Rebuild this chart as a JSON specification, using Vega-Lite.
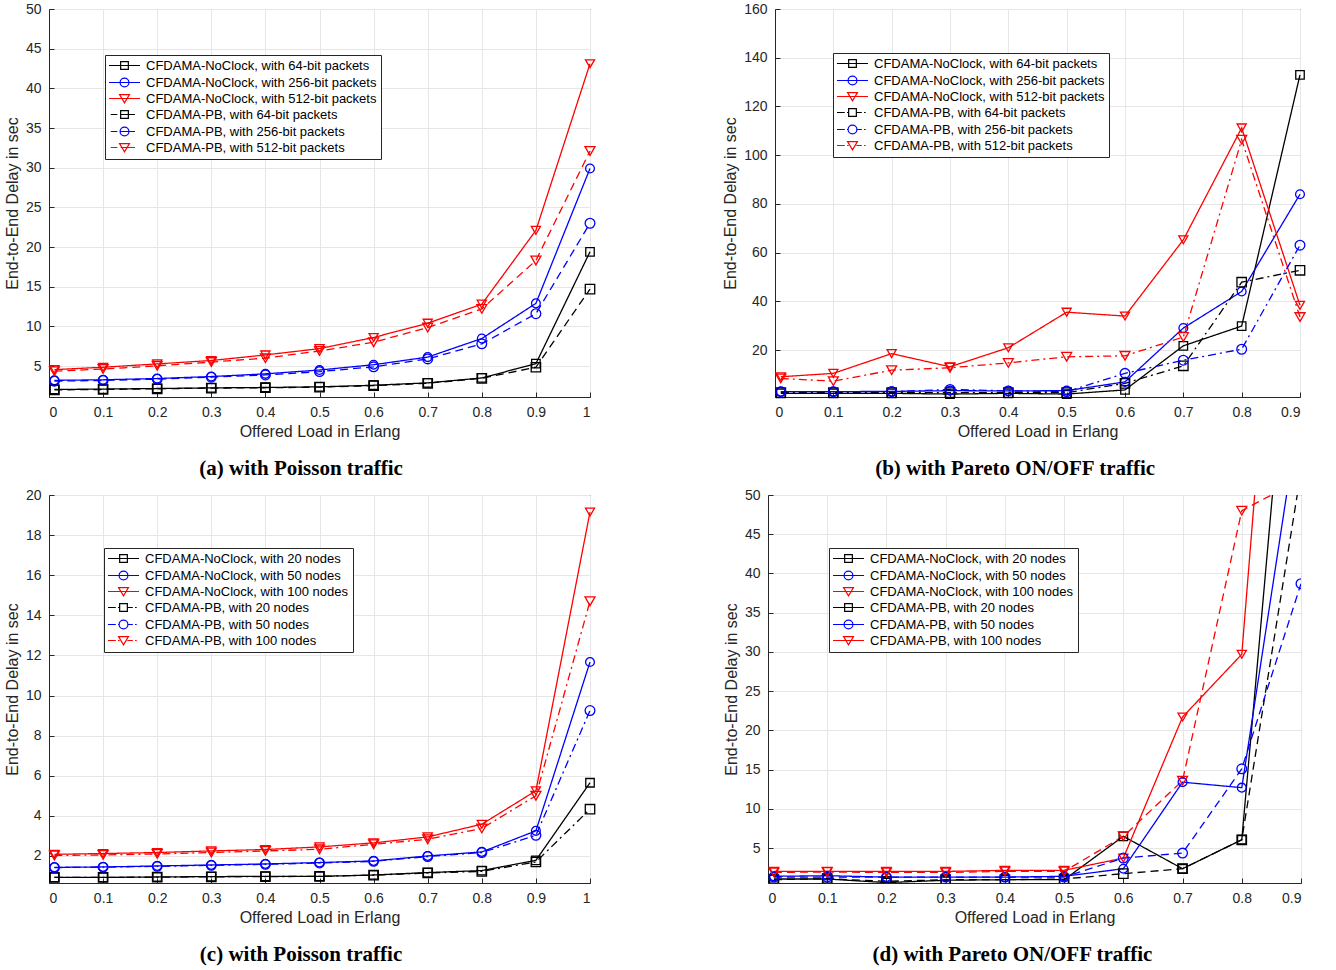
{
  "$schema": "https://vega.github.io/schema/vega-lite/v6.json",
  "background": "white",
  "padding": {"left": 3, "top": 1, "right": 0, "bottom": 0},
  "config": {
    "font": "Liberation Sans",
    "view": {"stroke": "#262626", "strokeWidth": 1},
    "axis": {
      "labelFont": "Liberation Sans", "labelFontSize": 14, "labelColor": "#262626",
      "titleFont": "Liberation Sans", "titleFontSize": 16, "titleFontWeight": "normal", "titleColor": "#262626",
      "gridColor": "#e6e6e6", "gridWidth": 1, "domainColor": "#262626", "tickColor": "#262626",
      "tickSize": -5, "labelPadding": 13
    },
    "axisX": {"titlePadding": 4},
    "axisY": {"titlePadding": 5},
    "title": {"font": "Liberation Serif", "fontSize": 21, "fontWeight": "bold", "color": "black", "offset": 19, "orient": "bottom", "anchor": "middle", "frame": "bounds"},
    "legend": {
      "orient": "none", "title": null, "strokeColor": "#262626", "fillColor": "white", "padding": 4,
      "labelFont": "Liberation Sans", "labelFontSize": 13, "labelColor": "black", "labelLimit": 400,
      "symbolSize": 121, "symbolStrokeWidth": 1.2, "labelOffset": 15, "symbolOffset": 9, "rowPadding": 2
    }
  },
  "datasets": {
    "pk": [
      {"s":"N1","name":"CFDAMA-NoClock, with 64-bit packets"},{"s":"N2","name":"CFDAMA-NoClock, with 256-bit packets"},{"s":"N3","name":"CFDAMA-NoClock, with 512-bit packets"},
      {"s":"P1","name":"CFDAMA-PB, with 64-bit packets"},{"s":"P2","name":"CFDAMA-PB, with 256-bit packets"},{"s":"P3","name":"CFDAMA-PB, with 512-bit packets"}
    ],
    "nd": [
      {"s":"N1","name":"CFDAMA-NoClock, with 20 nodes"},{"s":"N2","name":"CFDAMA-NoClock, with 50 nodes"},{"s":"N3","name":"CFDAMA-NoClock, with 100 nodes"},
      {"s":"P1","name":"CFDAMA-PB, with 20 nodes"},{"s":"P2","name":"CFDAMA-PB, with 50 nodes"},{"s":"P3","name":"CFDAMA-PB, with 100 nodes"}
    ],
    "a": [
      {"x":0.01,"y":2.05,"s":"N1"},{"x":0.1,"y":2.1,"s":"N1"},{"x":0.2,"y":2.17,"s":"N1"},{"x":0.3,"y":2.25,"s":"N1"},{"x":0.4,"y":2.3,"s":"N1"},{"x":0.5,"y":2.38,"s":"N1"},{"x":0.6,"y":2.58,"s":"N1"},{"x":0.7,"y":2.88,"s":"N1"},{"x":0.8,"y":3.5,"s":"N1"},{"x":0.9,"y":5.3,"s":"N1"},{"x":1.0,"y":19.4,"s":"N1"},
      {"x":0.01,"y":3.2,"s":"N2"},{"x":0.1,"y":3.27,"s":"N2"},{"x":0.2,"y":3.43,"s":"N2"},{"x":0.3,"y":3.68,"s":"N2"},{"x":0.4,"y":4.02,"s":"N2"},{"x":0.5,"y":4.5,"s":"N2"},{"x":0.6,"y":5.17,"s":"N2"},{"x":0.7,"y":6.13,"s":"N2"},{"x":0.8,"y":8.47,"s":"N2"},{"x":0.9,"y":12.9,"s":"N2"},{"x":1.0,"y":29.9,"s":"N2"},
      {"x":0.01,"y":4.55,"s":"N3"},{"x":0.1,"y":4.85,"s":"N3"},{"x":0.2,"y":5.27,"s":"N3"},{"x":0.3,"y":5.7,"s":"N3"},{"x":0.4,"y":6.4,"s":"N3"},{"x":0.5,"y":7.2,"s":"N3"},{"x":0.6,"y":8.6,"s":"N3"},{"x":0.7,"y":10.4,"s":"N3"},{"x":0.8,"y":12.8,"s":"N3"},{"x":0.9,"y":22.1,"s":"N3"},{"x":1.0,"y":43.1,"s":"N3"},
      {"x":0.01,"y":2.0,"s":"P1"},{"x":0.1,"y":2.05,"s":"P1"},{"x":0.2,"y":2.13,"s":"P1"},{"x":0.3,"y":2.22,"s":"P1"},{"x":0.4,"y":2.27,"s":"P1"},{"x":0.5,"y":2.34,"s":"P1"},{"x":0.6,"y":2.53,"s":"P1"},{"x":0.7,"y":2.83,"s":"P1"},{"x":0.8,"y":3.45,"s":"P1"},{"x":0.9,"y":4.85,"s":"P1"},{"x":1.0,"y":14.7,"s":"P1"},
      {"x":0.01,"y":3.1,"s":"P2"},{"x":0.1,"y":3.18,"s":"P2"},{"x":0.2,"y":3.35,"s":"P2"},{"x":0.3,"y":3.6,"s":"P2"},{"x":0.4,"y":3.88,"s":"P2"},{"x":0.5,"y":4.3,"s":"P2"},{"x":0.6,"y":4.9,"s":"P2"},{"x":0.7,"y":5.9,"s":"P2"},{"x":0.8,"y":7.8,"s":"P2"},{"x":0.9,"y":11.6,"s":"P2"},{"x":1.0,"y":23.0,"s":"P2"},
      {"x":0.01,"y":4.35,"s":"P3"},{"x":0.1,"y":4.63,"s":"P3"},{"x":0.2,"y":5.03,"s":"P3"},{"x":0.3,"y":5.5,"s":"P3"},{"x":0.4,"y":6.0,"s":"P3"},{"x":0.5,"y":6.9,"s":"P3"},{"x":0.6,"y":8.0,"s":"P3"},{"x":0.7,"y":9.85,"s":"P3"},{"x":0.8,"y":12.2,"s":"P3"},{"x":0.9,"y":18.3,"s":"P3"},{"x":1.0,"y":32.1,"s":"P3"}
    ],
    "b": [
      {"x":0.01,"y":2.3,"s":"N1"},{"x":0.1,"y":2.3,"s":"N1"},{"x":0.2,"y":2.3,"s":"N1"},{"x":0.3,"y":2.0,"s":"N1"},{"x":0.4,"y":2.3,"s":"N1"},{"x":0.5,"y":2.0,"s":"N1"},{"x":0.6,"y":3.7,"s":"N1"},{"x":0.7,"y":21.8,"s":"N1"},{"x":0.8,"y":29.9,"s":"N1"},{"x":0.9,"y":133,"s":"N1"},
      {"x":0.01,"y":3.0,"s":"N2"},{"x":0.1,"y":3.0,"s":"N2"},{"x":0.2,"y":3.1,"s":"N2"},{"x":0.3,"y":3.4,"s":"N2"},{"x":0.4,"y":3.3,"s":"N2"},{"x":0.5,"y":3.4,"s":"N2"},{"x":0.6,"y":7.0,"s":"N2"},{"x":0.7,"y":29.1,"s":"N2"},{"x":0.8,"y":44.1,"s":"N2"},{"x":0.9,"y":84.0,"s":"N2"},
      {"x":0.01,"y":9.1,"s":"N3"},{"x":0.1,"y":10.5,"s":"N3"},{"x":0.2,"y":18.6,"s":"N3"},{"x":0.3,"y":13.2,"s":"N3"},{"x":0.4,"y":21.0,"s":"N3"},{"x":0.5,"y":35.6,"s":"N3"},{"x":0.6,"y":34.0,"s":"N3"},{"x":0.7,"y":65.3,"s":"N3"},{"x":0.8,"y":111.2,"s":"N3"},{"x":0.9,"y":38.4,"s":"N3"},
      {"x":0.01,"y":2.6,"s":"P1"},{"x":0.1,"y":2.6,"s":"P1"},{"x":0.2,"y":2.6,"s":"P1"},{"x":0.3,"y":2.6,"s":"P1"},{"x":0.4,"y":2.6,"s":"P1"},{"x":0.5,"y":2.6,"s":"P1"},{"x":0.6,"y":6.4,"s":"P1"},{"x":0.7,"y":13.6,"s":"P1"},{"x":0.8,"y":47.9,"s":"P1"},{"x":0.9,"y":52.8,"s":"P1"},
      {"x":0.01,"y":3.0,"s":"P2"},{"x":0.1,"y":3.0,"s":"P2"},{"x":0.2,"y":3.0,"s":"P2"},{"x":0.3,"y":3.9,"s":"P2"},{"x":0.4,"y":3.3,"s":"P2"},{"x":0.5,"y":3.0,"s":"P2"},{"x":0.6,"y":10.5,"s":"P2"},{"x":0.7,"y":15.9,"s":"P2"},{"x":0.8,"y":20.4,"s":"P2"},{"x":0.9,"y":63.1,"s":"P2"},
      {"x":0.01,"y":8.4,"s":"P3"},{"x":0.1,"y":7.3,"s":"P3"},{"x":0.2,"y":11.8,"s":"P3"},{"x":0.3,"y":12.8,"s":"P3"},{"x":0.4,"y":14.8,"s":"P3"},{"x":0.5,"y":17.3,"s":"P3"},{"x":0.6,"y":17.7,"s":"P3"},{"x":0.7,"y":25.4,"s":"P3"},{"x":0.8,"y":106.4,"s":"P3"},{"x":0.9,"y":33.6,"s":"P3"}
    ],
    "c": [
      {"x":0.01,"y":0.93,"s":"N1"},{"x":0.1,"y":0.93,"s":"N1"},{"x":0.2,"y":0.95,"s":"N1"},{"x":0.3,"y":0.97,"s":"N1"},{"x":0.4,"y":0.98,"s":"N1"},{"x":0.5,"y":0.98,"s":"N1"},{"x":0.6,"y":1.05,"s":"N1"},{"x":0.7,"y":1.17,"s":"N1"},{"x":0.8,"y":1.27,"s":"N1"},{"x":0.9,"y":1.78,"s":"N1"},{"x":1.0,"y":5.65,"s":"N1"},
      {"x":0.01,"y":1.43,"s":"N2"},{"x":0.1,"y":1.45,"s":"N2"},{"x":0.2,"y":1.5,"s":"N2"},{"x":0.3,"y":1.55,"s":"N2"},{"x":0.4,"y":1.6,"s":"N2"},{"x":0.5,"y":1.67,"s":"N2"},{"x":0.6,"y":1.75,"s":"N2"},{"x":0.7,"y":2.0,"s":"N2"},{"x":0.8,"y":2.2,"s":"N2"},{"x":0.9,"y":3.25,"s":"N2"},{"x":1.0,"y":11.67,"s":"N2"},
      {"x":0.01,"y":2.08,"s":"N3"},{"x":0.1,"y":2.12,"s":"N3"},{"x":0.2,"y":2.17,"s":"N3"},{"x":0.3,"y":2.25,"s":"N3"},{"x":0.4,"y":2.32,"s":"N3"},{"x":0.5,"y":2.45,"s":"N3"},{"x":0.6,"y":2.65,"s":"N3"},{"x":0.7,"y":2.95,"s":"N3"},{"x":0.8,"y":3.58,"s":"N3"},{"x":0.9,"y":5.25,"s":"N3"},{"x":1.0,"y":19.15,"s":"N3"},
      {"x":0.01,"y":0.93,"s":"P1"},{"x":0.1,"y":0.93,"s":"P1"},{"x":0.2,"y":0.94,"s":"P1"},{"x":0.3,"y":0.96,"s":"P1"},{"x":0.4,"y":0.97,"s":"P1"},{"x":0.5,"y":0.98,"s":"P1"},{"x":0.6,"y":1.04,"s":"P1"},{"x":0.7,"y":1.15,"s":"P1"},{"x":0.8,"y":1.23,"s":"P1"},{"x":0.9,"y":1.7,"s":"P1"},{"x":1.0,"y":4.33,"s":"P1"},
      {"x":0.01,"y":1.42,"s":"P2"},{"x":0.1,"y":1.44,"s":"P2"},{"x":0.2,"y":1.48,"s":"P2"},{"x":0.3,"y":1.53,"s":"P2"},{"x":0.4,"y":1.58,"s":"P2"},{"x":0.5,"y":1.65,"s":"P2"},{"x":0.6,"y":1.73,"s":"P2"},{"x":0.7,"y":1.97,"s":"P2"},{"x":0.8,"y":2.17,"s":"P2"},{"x":0.9,"y":3.03,"s":"P2"},{"x":1.0,"y":9.25,"s":"P2"},
      {"x":0.01,"y":2.02,"s":"P3"},{"x":0.1,"y":2.05,"s":"P3"},{"x":0.2,"y":2.1,"s":"P3"},{"x":0.3,"y":2.17,"s":"P3"},{"x":0.4,"y":2.25,"s":"P3"},{"x":0.5,"y":2.33,"s":"P3"},{"x":0.6,"y":2.58,"s":"P3"},{"x":0.7,"y":2.83,"s":"P3"},{"x":0.8,"y":3.37,"s":"P3"},{"x":0.9,"y":5.0,"s":"P3"},{"x":1.0,"y":14.7,"s":"P3"}
    ],
    "d": [
      {"x":0.01,"y":1.06,"s":"N1"},{"x":0.1,"y":1.06,"s":"N1"},{"x":0.2,"y":0.6,"s":"N1"},{"x":0.3,"y":0.9,"s":"N1"},{"x":0.4,"y":0.97,"s":"N1"},{"x":0.5,"y":0.97,"s":"N1"},{"x":0.6,"y":6.5,"s":"N1"},{"x":0.7,"y":2.37,"s":"N1"},{"x":0.8,"y":6.06,"s":"N1"},{"x":0.9,"y":91,"s":"N1"},
      {"x":0.01,"y":1.4,"s":"N2"},{"x":0.1,"y":1.48,"s":"N2"},{"x":0.2,"y":1.3,"s":"N2"},{"x":0.3,"y":1.3,"s":"N2"},{"x":0.4,"y":1.3,"s":"N2"},{"x":0.5,"y":1.4,"s":"N2"},{"x":0.6,"y":2.37,"s":"N2"},{"x":0.7,"y":13.4,"s":"N2"},{"x":0.8,"y":12.7,"s":"N2"},{"x":0.9,"y":62,"s":"N2"},
      {"x":0.01,"y":2.03,"s":"N3"},{"x":0.1,"y":2.03,"s":"N3"},{"x":0.2,"y":2.03,"s":"N3"},{"x":0.3,"y":2.03,"s":"N3"},{"x":0.4,"y":2.16,"s":"N3"},{"x":0.5,"y":2.16,"s":"N3"},{"x":0.6,"y":3.73,"s":"N3"},{"x":0.7,"y":21.7,"s":"N3"},{"x":0.8,"y":29.7,"s":"N3"},{"x":0.9,"y":123,"s":"N3"},
      {"x":0.01,"y":0.97,"s":"P1"},{"x":0.1,"y":1.1,"s":"P1"},{"x":0.2,"y":0.76,"s":"P1"},{"x":0.3,"y":0.97,"s":"P1"},{"x":0.4,"y":0.97,"s":"P1"},{"x":0.5,"y":1.06,"s":"P1"},{"x":0.6,"y":1.74,"s":"P1"},{"x":0.7,"y":2.37,"s":"P1"},{"x":0.8,"y":6.06,"s":"P1"},{"x":0.9,"y":53,"s":"P1"},
      {"x":0.01,"y":1.3,"s":"P2"},{"x":0.1,"y":1.3,"s":"P2"},{"x":0.2,"y":1.3,"s":"P2"},{"x":0.3,"y":1.3,"s":"P2"},{"x":0.4,"y":1.3,"s":"P2"},{"x":0.5,"y":1.3,"s":"P2"},{"x":0.6,"y":3.73,"s":"P2"},{"x":0.7,"y":4.36,"s":"P2"},{"x":0.8,"y":15.1,"s":"P2"},{"x":0.9,"y":38.7,"s":"P2"},
      {"x":0.01,"y":1.9,"s":"P3"},{"x":0.1,"y":1.95,"s":"P3"},{"x":0.2,"y":1.9,"s":"P3"},{"x":0.3,"y":1.9,"s":"P3"},{"x":0.4,"y":2.03,"s":"P3"},{"x":0.5,"y":2.03,"s":"P3"},{"x":0.6,"y":6.5,"s":"P3"},{"x":0.7,"y":13.6,"s":"P3"},{"x":0.8,"y":48.0,"s":"P3"},{"x":0.9,"y":52,"s":"P3"}
    ]
  },
  "resolve": {"scale": {"color": "independent", "shape": "independent", "strokeDash": "independent", "size": "independent"}, "legend": {"color": "independent"}},
  "spacing": 7,
  "vconcat": [
    {
      "resolve": {"scale": {"color": "independent", "shape": "independent", "strokeDash": "independent", "size": "independent"}, "legend": {"color": "independent"}},
      "spacing": 123,
      "hconcat": [
        {
          "width": 541, "height": 388,
          "title": "(a) with Poisson traffic",
          "data": {"name": "a"},
          "transform": [{"lookup": "s", "from": {"data": {"name": "pk"}, "key": "s", "fields": ["name"]}}],
          "layer": [
            {
              "mark": {"type": "line", "strokeWidth": 1.3},
              "encoding": {
                "x": {"field": "x", "type": "quantitative", "scale": {"domain": [0, 1], "nice": false, "zero": false}, "axis": {"title": "Offered Load in Erlang", "values": [0, 0.1, 0.2, 0.3, 0.4, 0.5, 0.6, 0.7, 0.8, 0.9, 1], "format": ".1~f"}},
                "y": {"field": "y", "type": "quantitative", "scale": {"domain": [1.1, 50], "nice": false, "zero": false}, "axis": {"title": "End-to-End Delay in sec", "values": [5, 10, 15, 20, 25, 30, 35, 40, 45, 50]}},
                "color": {"field": "name", "type": "nominal", "scale": {"domain": ["CFDAMA-NoClock, with 64-bit packets", "CFDAMA-NoClock, with 256-bit packets", "CFDAMA-NoClock, with 512-bit packets", "CFDAMA-PB, with 64-bit packets", "CFDAMA-PB, with 256-bit packets", "CFDAMA-PB, with 512-bit packets"], "range": ["#000000", "#0000ff", "#ff0000", "#000000", "#0000ff", "#ff0000"]},
                  "legend": {"legendX": 56, "legendY": 46,
                    "encode": {"symbols": {"update": {"fill": {"value": "transparent"}, "size": {"value": 121}, "strokeDash": {"value": []}, "shape": {"signal": "(indexof(datum.value,'PB')>=0 ? 'M-2.5,0H-1.3M-0.7,0H1.9' : 'M-2.82,0H2.82') + (indexof(datum.value,' 64-bit')>=0 ? 'M-0.7,-0.7H0.7V0.7H-0.7Z' : (indexof(datum.value,' 256-bit')>=0 ? 'M-0.8,0A0.8,0.8 0 1,0 0.8,0A0.8,0.8 0 1,0 -0.8,0Z' : 'M-0.9,-0.72H0.9L0,0.8Z'))"}}}}}},
                "strokeDash": {"field": "s", "type": "nominal", "scale": {"domain": ["N1", "N2", "N3", "P1", "P2", "P3"], "range": [[1, 0], [1, 0], [1, 0], [8, 5], [8, 5], [8, 5]]}, "legend": null}
              }
            },
            {
              "mark": {"type": "point", "filled": false, "strokeWidth": 1.3, "opacity": 1},
              "encoding": {
                "x": {"field": "x", "type": "quantitative"},
                "y": {"field": "y", "type": "quantitative"},
                "color": {"field": "name", "type": "nominal", "legend": null},
                "shape": {"field": "s", "type": "nominal", "scale": {"domain": ["N1", "N2", "N3", "P1", "P2", "P3"], "range": ["square", "circle", "triangle-down", "square", "circle", "triangle-down"]}, "legend": null},
                "size": {"field": "s", "type": "nominal", "scale": {"domain": ["N1", "N2", "N3", "P1", "P2", "P3"], "range": [72, 100, 130, 72, 100, 130]}, "legend": null}
              }
            }
          ]
        },
        {
          "width": 525, "height": 388,
          "title": "(b) with Pareto ON/OFF traffic",
          "data": {"name": "b"},
          "transform": [{"lookup": "s", "from": {"data": {"name": "pk"}, "key": "s", "fields": ["name"]}}],
          "layer": [
            {
              "mark": {"type": "line", "strokeWidth": 1.3},
              "encoding": {
                "x": {"field": "x", "type": "quantitative", "scale": {"domain": [0, 0.9], "nice": false, "zero": false}, "axis": {"title": "Offered Load in Erlang", "values": [0, 0.1, 0.2, 0.3, 0.4, 0.5, 0.6, 0.7, 0.8, 0.9], "format": ".1~f"}},
                "y": {"field": "y", "type": "quantitative", "scale": {"domain": [0.8, 160], "nice": false, "zero": false}, "axis": {"title": "End-to-End Delay in sec", "values": [20, 40, 60, 80, 100, 120, 140, 160]}},
                "color": {"field": "name", "type": "nominal", "scale": {"domain": ["CFDAMA-NoClock, with 64-bit packets", "CFDAMA-NoClock, with 256-bit packets", "CFDAMA-NoClock, with 512-bit packets", "CFDAMA-PB, with 64-bit packets", "CFDAMA-PB, with 256-bit packets", "CFDAMA-PB, with 512-bit packets"], "range": ["#000000", "#0000ff", "#ff0000", "#000000", "#0000ff", "#ff0000"]},
                  "legend": {"legendX": 58, "legendY": 44,
                    "encode": {"symbols": {"update": {"fill": {"value": "transparent"}, "size": {"value": 121}, "strokeDash": {"value": []}, "shape": {"signal": "(indexof(datum.value,'PB')>=0 ? 'M-2.82,0H-1.4M-1.0,0H-0.7M0.7,0H1.7M2.1,0H2.4' : 'M-2.82,0H2.82') + (indexof(datum.value,' 64-bit')>=0 ? 'M-0.7,-0.7H0.7V0.7H-0.7Z' : (indexof(datum.value,' 256-bit')>=0 ? 'M-0.8,0A0.8,0.8 0 1,0 0.8,0A0.8,0.8 0 1,0 -0.8,0Z' : 'M-0.9,-0.72H0.9L0,0.8Z'))"}}}}}},
                "strokeDash": {"field": "s", "type": "nominal", "scale": {"domain": ["N1", "N2", "N3", "P1", "P2", "P3"], "range": [[1, 0], [1, 0], [1, 0], [8, 4, 2, 4], [8, 4, 2, 4], [8, 4, 2, 4]]}, "legend": null}
              }
            },
            {
              "mark": {"type": "point", "filled": false, "strokeWidth": 1.3, "opacity": 1},
              "encoding": {
                "x": {"field": "x", "type": "quantitative"},
                "y": {"field": "y", "type": "quantitative"},
                "color": {"field": "name", "type": "nominal", "legend": null},
                "shape": {"field": "s", "type": "nominal", "scale": {"domain": ["N1", "N2", "N3", "P1", "P2", "P3"], "range": ["square", "circle", "triangle-down", "square", "circle", "triangle-down"]}, "legend": null},
                "size": {"field": "s", "type": "nominal", "scale": {"domain": ["N1", "N2", "N3", "P1", "P2", "P3"], "range": [72, 100, 130, 72, 100, 130]}, "legend": null}
              }
            }
          ]
        }
      ]
    },
    {
      "resolve": {"scale": {"color": "independent", "shape": "independent", "strokeDash": "independent", "size": "independent"}, "legend": {"color": "independent"}},
      "spacing": 123,
      "hconcat": [
        {
          "width": 541, "height": 388,
          "title": "(c) with Poisson traffic",
          "data": {"name": "c"},
          "transform": [{"lookup": "s", "from": {"data": {"name": "nd"}, "key": "s", "fields": ["name"]}}],
          "layer": [
            {
              "mark": {"type": "line", "strokeWidth": 1.3},
              "encoding": {
                "x": {"field": "x", "type": "quantitative", "scale": {"domain": [0, 1], "nice": false, "zero": false}, "axis": {"title": "Offered Load in Erlang", "values": [0, 0.1, 0.2, 0.3, 0.4, 0.5, 0.6, 0.7, 0.8, 0.9, 1], "format": ".1~f"}},
                "y": {"field": "y", "type": "quantitative", "scale": {"domain": [0.65, 20], "nice": false, "zero": false}, "axis": {"title": "End-to-End Delay in sec", "values": [2, 4, 6, 8, 10, 12, 14, 16, 18, 20]}},
                "color": {"field": "name", "type": "nominal", "scale": {"domain": ["CFDAMA-NoClock, with 20 nodes", "CFDAMA-NoClock, with 50 nodes", "CFDAMA-NoClock, with 100 nodes", "CFDAMA-PB, with 20 nodes", "CFDAMA-PB, with 50 nodes", "CFDAMA-PB, with 100 nodes"], "range": ["#000000", "#0000ff", "#ff0000", "#000000", "#0000ff", "#ff0000"]},
                  "legend": {"legendX": 55, "legendY": 53,
                    "encode": {"symbols": {"update": {"fill": {"value": "transparent"}, "size": {"value": 121}, "strokeDash": {"value": []}, "shape": {"signal": "(indexof(datum.value,'PB')>=0 ? 'M-2.82,0H-1.4M-1.0,0H-0.7M0.7,0H1.7M2.1,0H2.4' : 'M-2.82,0H2.82') + (indexof(datum.value,' 20 nodes')>=0 ? 'M-0.7,-0.7H0.7V0.7H-0.7Z' : (indexof(datum.value,' 50 nodes')>=0 ? 'M-0.8,0A0.8,0.8 0 1,0 0.8,0A0.8,0.8 0 1,0 -0.8,0Z' : 'M-0.9,-0.72H0.9L0,0.8Z'))"}}}}}},
                "strokeDash": {"field": "s", "type": "nominal", "scale": {"domain": ["N1", "N2", "N3", "P1", "P2", "P3"], "range": [[1, 0], [1, 0], [1, 0], [8, 4, 2, 4], [8, 4, 2, 4], [8, 4, 2, 4]]}, "legend": null}
              }
            },
            {
              "mark": {"type": "point", "filled": false, "strokeWidth": 1.3, "opacity": 1},
              "encoding": {
                "x": {"field": "x", "type": "quantitative"},
                "y": {"field": "y", "type": "quantitative"},
                "color": {"field": "name", "type": "nominal", "legend": null},
                "shape": {"field": "s", "type": "nominal", "scale": {"domain": ["N1", "N2", "N3", "P1", "P2", "P3"], "range": ["square", "circle", "triangle-down", "square", "circle", "triangle-down"]}, "legend": null},
                "size": {"field": "s", "type": "nominal", "scale": {"domain": ["N1", "N2", "N3", "P1", "P2", "P3"], "range": [72, 100, 130, 72, 100, 130]}, "legend": null}
              }
            }
          ]
        },
        {
          "width": 533, "height": 388,
          "title": "(d) with Pareto ON/OFF traffic",
          "data": {"name": "d"},
          "transform": [{"lookup": "s", "from": {"data": {"name": "nd"}, "key": "s", "fields": ["name"]}}],
          "layer": [
            {
              "mark": {"type": "line", "strokeWidth": 1.3, "clip": true},
              "encoding": {
                "x": {"field": "x", "type": "quantitative", "scale": {"domain": [0, 0.9], "nice": false, "zero": false}, "axis": {"title": "Offered Load in Erlang", "values": [0, 0.1, 0.2, 0.3, 0.4, 0.5, 0.6, 0.7, 0.8, 0.9], "format": ".1~f"}},
                "y": {"field": "y", "type": "quantitative", "scale": {"domain": [0.55, 50], "nice": false, "zero": false}, "axis": {"title": "End-to-End Delay in sec", "values": [5, 10, 15, 20, 25, 30, 35, 40, 45, 50]}},
                "color": {"field": "name", "type": "nominal", "scale": {"domain": ["CFDAMA-NoClock, with 20 nodes", "CFDAMA-NoClock, with 50 nodes", "CFDAMA-NoClock, with 100 nodes", "CFDAMA-PB, with 20 nodes", "CFDAMA-PB, with 50 nodes", "CFDAMA-PB, with 100 nodes"], "range": ["#000000", "#0000ff", "#ff0000", "#000000", "#0000ff", "#ff0000"]},
                  "legend": {"legendX": 61, "legendY": 53,
                    "encode": {"symbols": {"update": {"fill": {"value": "transparent"}, "size": {"value": 121}, "strokeDash": {"value": []}, "shape": {"signal": "'M-2.82,0H2.82' + (indexof(datum.value,' 20 nodes')>=0 ? 'M-0.7,-0.7H0.7V0.7H-0.7Z' : (indexof(datum.value,' 50 nodes')>=0 ? 'M-0.8,0A0.8,0.8 0 1,0 0.8,0A0.8,0.8 0 1,0 -0.8,0Z' : 'M-0.9,-0.72H0.9L0,0.8Z'))"}}}}}},
                "strokeDash": {"field": "s", "type": "nominal", "scale": {"domain": ["N1", "N2", "N3", "P1", "P2", "P3"], "range": [[1, 0], [1, 0], [1, 0], [8, 5], [8, 5], [8, 5]]}, "legend": null}
              }
            },
            {
              "mark": {"type": "point", "filled": false, "strokeWidth": 1.3, "opacity": 1, "clip": true},
              "encoding": {
                "x": {"field": "x", "type": "quantitative"},
                "y": {"field": "y", "type": "quantitative"},
                "color": {"field": "name", "type": "nominal", "legend": null},
                "shape": {"field": "s", "type": "nominal", "scale": {"domain": ["N1", "N2", "N3", "P1", "P2", "P3"], "range": ["square", "circle", "triangle-down", "square", "circle", "triangle-down"]}, "legend": null},
                "size": {"field": "s", "type": "nominal", "scale": {"domain": ["N1", "N2", "N3", "P1", "P2", "P3"], "range": [72, 100, 130, 72, 100, 130]}, "legend": null}
              }
            }
          ]
        }
      ]
    }
  ]
}
